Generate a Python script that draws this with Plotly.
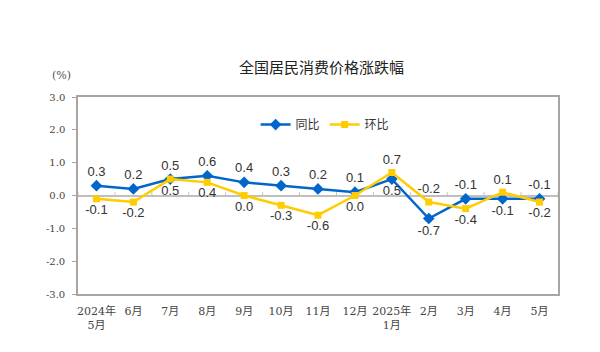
import plotly.graph_objects as go

categories = ["2024年<br>5月", "6月", "7月", "8月", "9月", "10月", "11月", "12月",
              "2025年<br>1月", "2月", "3月", "4月", "5月"]
yoy = [0.3, 0.2, 0.5, 0.6, 0.4, 0.3, 0.2, 0.1, 0.5, -0.7, -0.1, -0.1, -0.1]
mom = [-0.1, -0.2, 0.5, 0.4, 0.0, -0.3, -0.6, 0.0, 0.7, -0.2, -0.4, 0.1, -0.2]
yoy_pos = ["top center"] * 13
yoy_pos[2] = "bottom center"
yoy_pos[8] = "bottom center"
yoy_pos[9] = "bottom center"
yoy_pos[11] = "bottom center"
mom_pos = ["bottom center"] * 13
for i in (2, 8, 9, 11):
    mom_pos[i] = "top center"
y_ticks = [3, 2, 1, 0, -1, -2, -3]

x = list(range(len(categories)))
fig = go.Figure()
fig.add_trace(go.Scatter(
    x=x, y=yoy, name="同比", mode="lines+markers+text",
    line=dict(color="#0066CC", width=2.5),
    marker=dict(symbol="diamond", size=9, color="#0066CC"),
    text=[f"{v:.1f}" for v in yoy], textposition=yoy_pos,
    textfont=dict(family="Liberation Sans, Arial", size=13, color="#333333"),
))
fig.add_trace(go.Scatter(
    x=x, y=mom, name="环比", mode="lines+markers+text",
    line=dict(color="#FFCC00", width=2.5),
    marker=dict(symbol="square", size=7, color="#FFCC00"),
    text=[f"{v:.1f}" for v in mom], textposition=mom_pos,
    textfont=dict(family="Liberation Sans, Arial", size=13, color="#333333"),
))

shapes = [dict(type="line", xref="x", yref="y", x0=i + 0.5, x1=i + 0.5, y0=0, y1=0.1,
               line=dict(color="#BFBFBF", width=1)) for i in range(-1, len(categories))]
fig.update_layout(
    width=600, height=352,
    margin=dict(l=78, r=42, t=97, b=58),
    paper_bgcolor="white", plot_bgcolor="white",
    showlegend=True,
    legend=dict(orientation="h", x=0.37, y=0.86, xanchor="left", yanchor="middle",
                font=dict(family="Noto Sans CJK SC", size=12, color="#333333"),
                bgcolor="rgba(0,0,0,0)", itemwidth=30),
    shapes=shapes,
    annotations=[
        dict(text="全国居民消费价格涨跌幅", xref="paper", yref="paper", x=0.508, y=1.155,
             showarrow=False, xanchor="center", yanchor="middle",
             font=dict(family="Noto Sans CJK SC", size=15, color="#222222")),
        dict(text="(%)", xref="paper", yref="paper", x=-0.035, y=1.11,
             showarrow=False, xanchor="center", yanchor="middle",
             font=dict(family="DejaVu Serif", size=11, color="#555555")),
    ],
    xaxis=dict(range=[-0.5, len(categories) - 0.5], tickmode="array", tickvals=x,
               ticktext=categories, showgrid=False, zeroline=False,
               showline=True, linecolor="#A6A6A6", linewidth=1.5, mirror=True,
               ticks="", ticklabelstandoff=6,
               tickfont=dict(family="DejaVu Serif, Noto Sans CJK SC", size=11, color="#444444")),
    yaxis=dict(range=[-3, 3], tickmode="array", tickvals=y_ticks,
               ticktext=[f"{v:.1f}" for v in y_ticks], showgrid=False,
               zeroline=True, zerolinecolor="#BFBFBF", zerolinewidth=1.5,
               showline=True, linecolor="#A6A6A6", linewidth=1.5, mirror=True,
               ticks="outside", ticklen=4, tickcolor="#A6A6A6", ticklabelstandoff=5,
               tickfont=dict(family="DejaVu Serif", size=10, color="#444444")),
)
fig.write_html("out.html")
